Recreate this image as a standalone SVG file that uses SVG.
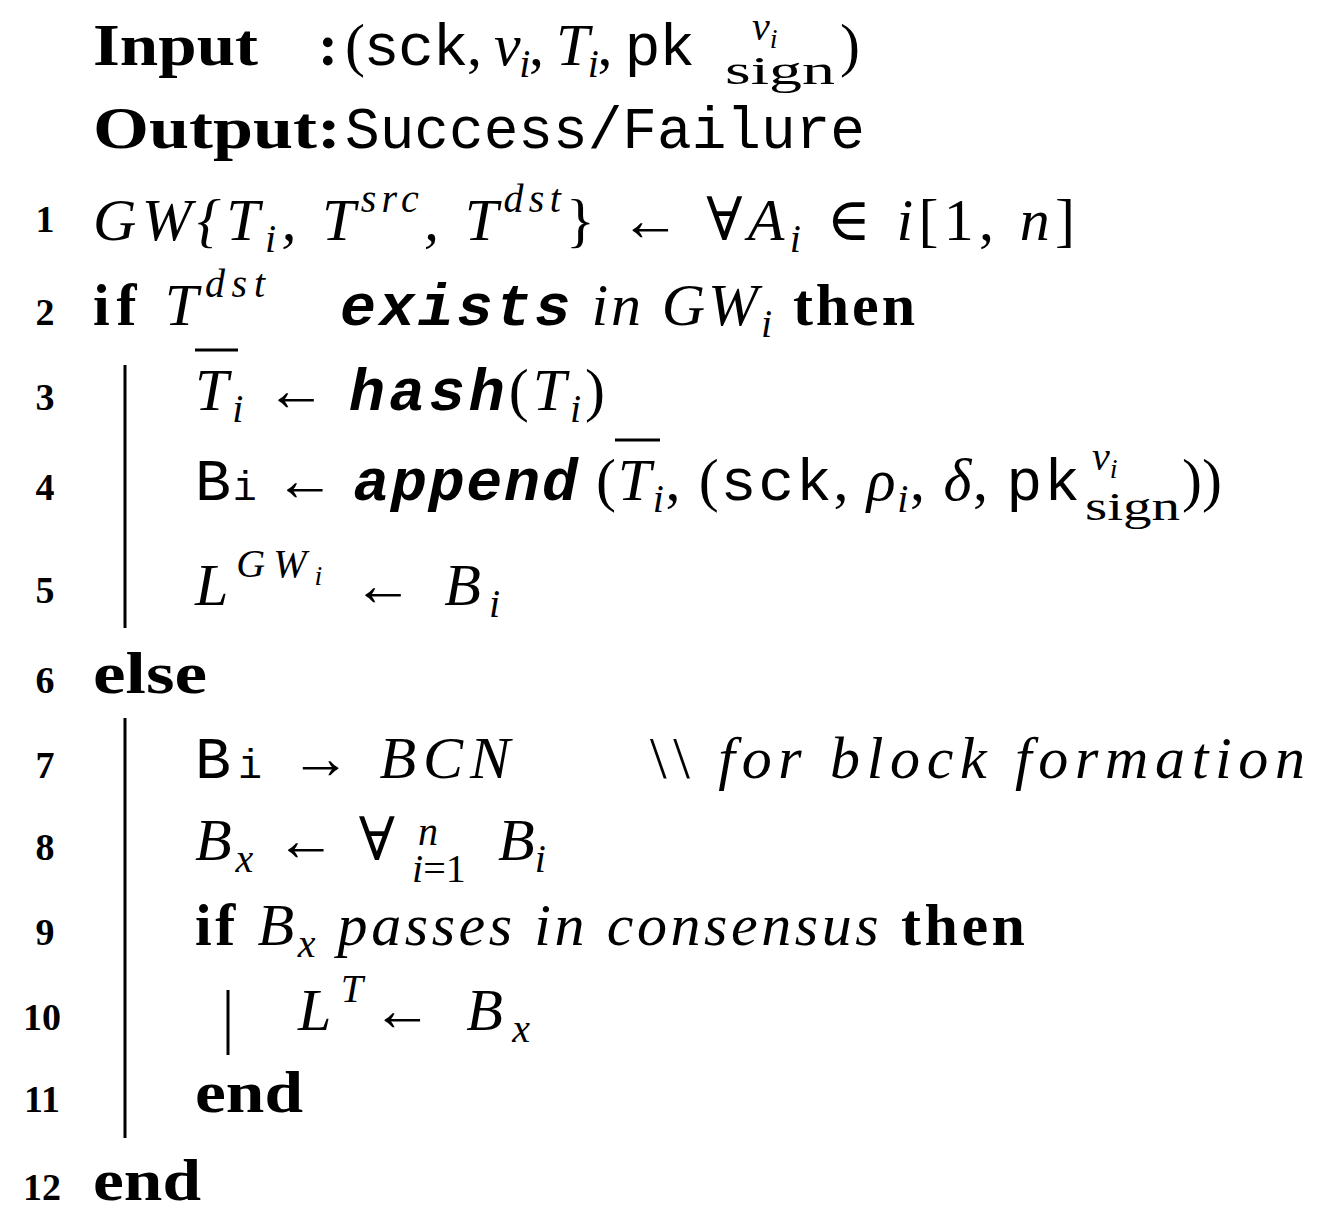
<svg xmlns="http://www.w3.org/2000/svg" width="1321" height="1222" viewBox="0 0 1321 1222">
<style>
text{font-family:"Liberation Serif","DejaVu Serif",serif;font-size:60px;fill:#000}
.n{font-size:38px;font-weight:bold;text-anchor:middle}
.b{font-weight:bold}
.i{font-style:italic}
.m{font-family:"Liberation Mono","DejaVu Sans Mono",monospace;font-style:normal}
.s{font-size:40px}
.ss{font-size:28px}
.bi{font-style:italic;font-weight:bold;font-family:"Liberation Mono","DejaVu Sans Mono",monospace}
line{stroke:#000;stroke-width:3}
</style>
<rect width="1321" height="1222" fill="#fff"/>
<g id="bars">
<line x1="125" y1="365" x2="125" y2="628"/>
<line x1="125" y1="718" x2="125" y2="1138"/>
<line x1="228" y1="990" x2="228" y2="1055"/>
<line x1="195" y1="350" x2="238" y2="350"/>
<line x1="615" y1="440" x2="660" y2="440"/>
</g>
<g id="lines">
<text x="93" y="65" class="b" textLength="165" lengthAdjust="spacingAndGlyphs">Input</text>
<text x="318" y="65" class="b">:</text>
<text x="345" y="65" textLength="350" lengthAdjust="spacing">(<tspan class="m">sck</tspan>, <tspan class="i">v</tspan><tspan class="i s" dy="12">i</tspan><tspan dy="-12">, </tspan><tspan class="i">T</tspan><tspan class="i s" dy="12">i</tspan><tspan dy="-12">, </tspan><tspan class="m">pk</tspan></text>
<text x="752" y="40" class="i s">v<tspan class="ss" dy="8">i</tspan></text>
<text x="725" y="84" class="s" textLength="110" lengthAdjust="spacingAndGlyphs">sign</text>
<text x="840" y="65">)</text>
<text x="93" y="148" class="b" textLength="248" lengthAdjust="spacingAndGlyphs">Output:</text>
<text x="345" y="148" class="m" textLength="520" lengthAdjust="spacingAndGlyphs">Success/Failure</text>

<text class="n" x="45" y="232">1</text>
<text x="93" y="240" class="i" textLength="982" lengthAdjust="spacing">GW{T<tspan class="s" dy="12">i</tspan><tspan dy="-12">, T</tspan><tspan class="s" dy="-28">src</tspan><tspan dy="28">, T</tspan><tspan class="s" dy="-28">dst</tspan><tspan dy="28" style="font-style:normal">} ← ∀</tspan>A<tspan class="s" dy="12">i</tspan><tspan dy="-12" style="font-style:normal"> ∈ </tspan>i<tspan style="font-style:normal">[1, </tspan>n<tspan style="font-style:normal">]</tspan></text>

<text class="n" x="45" y="325">2</text>
<text x="93" y="325" textLength="172" lengthAdjust="spacing"><tspan class="b">if </tspan><tspan class="i">T</tspan><tspan class="i s" dy="-28">dst</tspan></text>
<text x="340" y="325" textLength="575" lengthAdjust="spacing"><tspan class="bi">exists</tspan><tspan class="i"> in GW</tspan><tspan class="i s" dy="12">i</tspan><tspan dy="-12" class="b"> then</tspan></text>

<text class="n" x="45" y="410">3</text>
<text x="195" y="410" textLength="410" lengthAdjust="spacing"><tspan class="i">T</tspan><tspan class="i s" dy="12">i</tspan><tspan dy="-12"> ← </tspan><tspan class="bi">hash</tspan>(<tspan class="i">T</tspan><tspan class="i s" dy="12">i</tspan><tspan dy="-12">)</tspan></text>

<text class="n" x="45" y="500">4</text>
<text x="195" y="500" textLength="885" lengthAdjust="spacing"><tspan class="m">B</tspan><tspan class="m s">i</tspan> ← <tspan class="bi">append</tspan> (<tspan class="i">T</tspan><tspan class="i s" dy="12">i</tspan><tspan dy="-12">, (</tspan><tspan class="m">sck</tspan>, <tspan class="i">ρ</tspan><tspan class="i s" dy="12">i</tspan><tspan dy="-12">, </tspan><tspan class="i">δ</tspan>, <tspan class="m">pk</tspan></text>
<text x="1092" y="470" class="i s">v<tspan class="ss" dy="8">i</tspan></text>
<text x="1085" y="520" class="s" textLength="95" lengthAdjust="spacingAndGlyphs">sign</text>
<text x="1182" y="500">))</text>

<text class="n" x="45" y="603">5</text>
<text x="195" y="605" textLength="305" lengthAdjust="spacing"><tspan class="i">L</tspan><tspan class="i s" dy="-28">GW</tspan><tspan class="i ss" dy="8">i</tspan><tspan dy="20"> ← </tspan><tspan class="i">B</tspan><tspan class="i s" dy="12">i</tspan></text>

<text class="n" x="45" y="693">6</text>
<text x="93" y="693" class="b" textLength="114" lengthAdjust="spacingAndGlyphs">else</text>

<text class="n" x="45" y="778">7</text>
<text x="195" y="778" textLength="315" lengthAdjust="spacing"><tspan class="m">B</tspan><tspan class="m s">i</tspan> → <tspan class="i">BCN</tspan></text>
<text x="650" y="778" textLength="655" lengthAdjust="spacing">\\ <tspan class="i">for block formation</tspan></text>

<text class="n" x="45" y="860">8</text>
<text x="195" y="860" textLength="200" lengthAdjust="spacing"><tspan class="i">B</tspan><tspan class="i s" dy="12">x</tspan><tspan dy="-12"> ← ∀</tspan></text>
<text x="418" y="845" class="i s">n</text>
<text x="412" y="882" class="s"><tspan class="i">i</tspan>=1</text>
<text x="498" y="860" class="i">B<tspan class="s" dy="12">i</tspan></text>

<text class="n" x="45" y="945">9</text>
<text x="195" y="945" textLength="830" lengthAdjust="spacing"><tspan class="b">if </tspan><tspan class="i">B</tspan><tspan class="i s" dy="12">x</tspan><tspan dy="-12" class="i"> passes in consensus</tspan><tspan class="b"> then</tspan></text>

<text class="n" x="42" y="1030">10</text>
<text x="298" y="1030" textLength="232" lengthAdjust="spacing"><tspan class="i">L</tspan><tspan class="i s" dy="-28">T</tspan><tspan dy="28">← </tspan><tspan class="i">B</tspan><tspan class="i s" dy="12">x</tspan></text>

<text class="n" x="42" y="1112">11</text>
<text x="195" y="1112" class="b" textLength="108" lengthAdjust="spacingAndGlyphs">end</text>
<text class="n" x="42" y="1200">12</text>
<text x="93" y="1200" class="b" textLength="108" lengthAdjust="spacingAndGlyphs">end</text>
</g>
</svg>
